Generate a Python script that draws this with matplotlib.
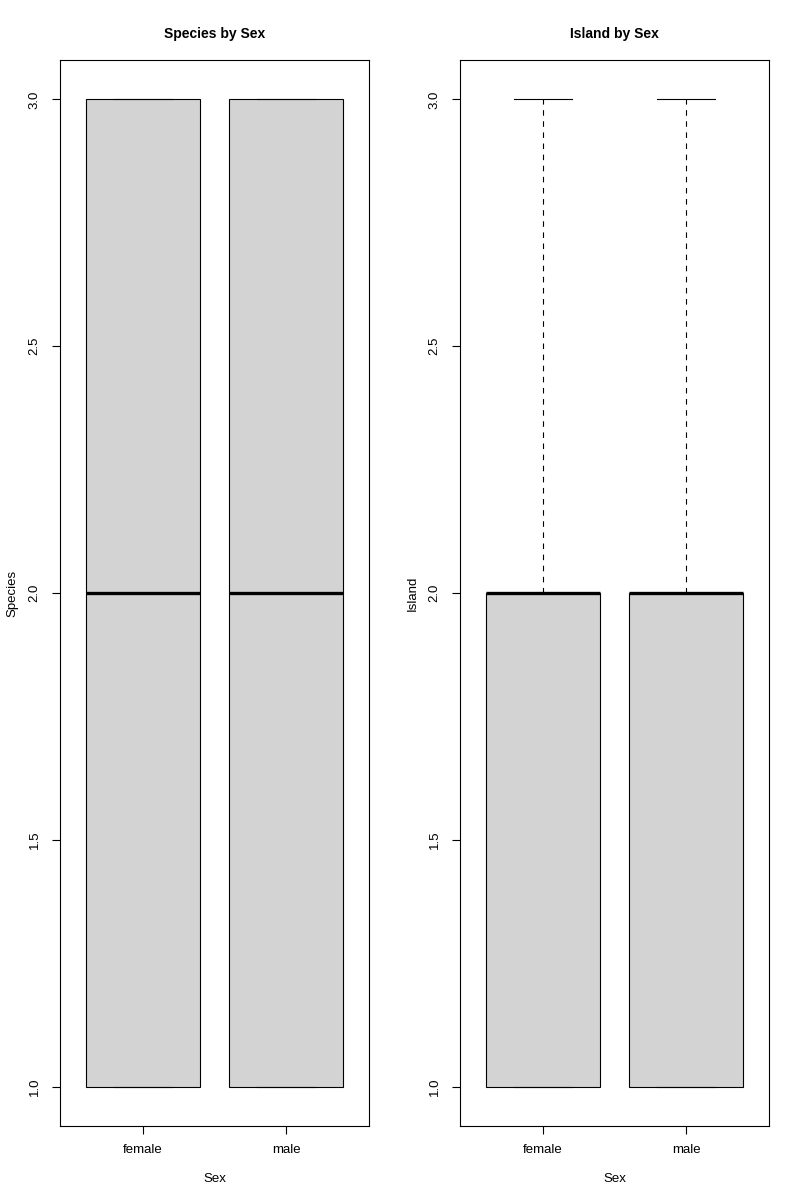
import matplotlib
matplotlib.use("Agg")
import matplotlib.pyplot as plt

plt.rcParams['font.family'] = ['Liberation Sans', 'DejaVu Sans']

sex = ["female", "male"]

species_whislo = [1.0, 1.0]
species_q1 = [1.0, 1.0]
species_med = [2.0, 2.0]
species_q3 = [3.0, 3.0]
species_whishi = [3.0, 3.0]

island_whislo = [1.0, 1.0]
island_q1 = [1.0, 1.0]
island_med = [2.0, 2.0]
island_q3 = [2.0, 2.0]
island_whishi = [3.0, 3.0]

yticks = [1.0, 1.5, 2.0, 2.5, 3.0]


def make_stats(lo, q1, med, q3, hi, labels):
    return [dict(label=l, whislo=a, q1=b, med=c, q3=d, whishi=e, fliers=[])
            for l, a, b, c, d, e in zip(labels, lo, q1, med, q3, hi)]


fig = plt.figure(figsize=(8, 12), dpi=100)
ax1 = fig.add_axes([60/800, 1 - 1126/1200, 309/800, 1066/1200])
ax2 = fig.add_axes([460/800, 1 - 1126/1200, 309/800, 1066/1200])

panels = [
    (ax1, make_stats(species_whislo, species_q1, species_med, species_q3, species_whishi, sex),
     "Species by Sex", "Species"),
    (ax2, make_stats(island_whislo, island_q1, island_med, island_q3, island_whishi, sex),
     "Island by Sex", "Island"),
]

for ax, stats, title, ylab in panels:
    ax.bxp(stats, positions=[1, 2], widths=0.8, patch_artist=True, showfliers=False,
           boxprops=dict(facecolor='#d3d3d3', edgecolor='black', linewidth=0.8),
           medianprops=dict(color='black', linewidth=2.4, solid_capstyle='butt'),
           whiskerprops=dict(color='black', linewidth=0.8, linestyle=(0, (5, 5))),
           capprops=dict(color='black', linewidth=0.8),
           capwidths=0.4)
    ax.set_xlim(0.42, 2.58)
    ax.set_ylim(0.92, 3.08)
    ax.set_yticks(yticks)
    ax.set_yticklabels([f"{v:.1f}" for v in yticks], rotation=90, va='center')
    ax.set_xticks([1, 2])
    ax.set_xticklabels(sex)
    ax.tick_params(axis='both', direction='out', length=6, width=0.8, labelsize=9.5)
    ax.tick_params(axis='y', pad=8)
    ax.tick_params(axis='x', pad=7)
    for s in ax.spines.values():
        s.set_linewidth(0.8)
    ax.set_title(title, fontsize=10, fontweight='bold', pad=16)
    ax.set_xlabel("Sex", fontsize=9.5, labelpad=12)
    ax.set_ylabel(ylab, fontsize=9.5, labelpad=7)

fig.savefig("out.png", dpi=100)
